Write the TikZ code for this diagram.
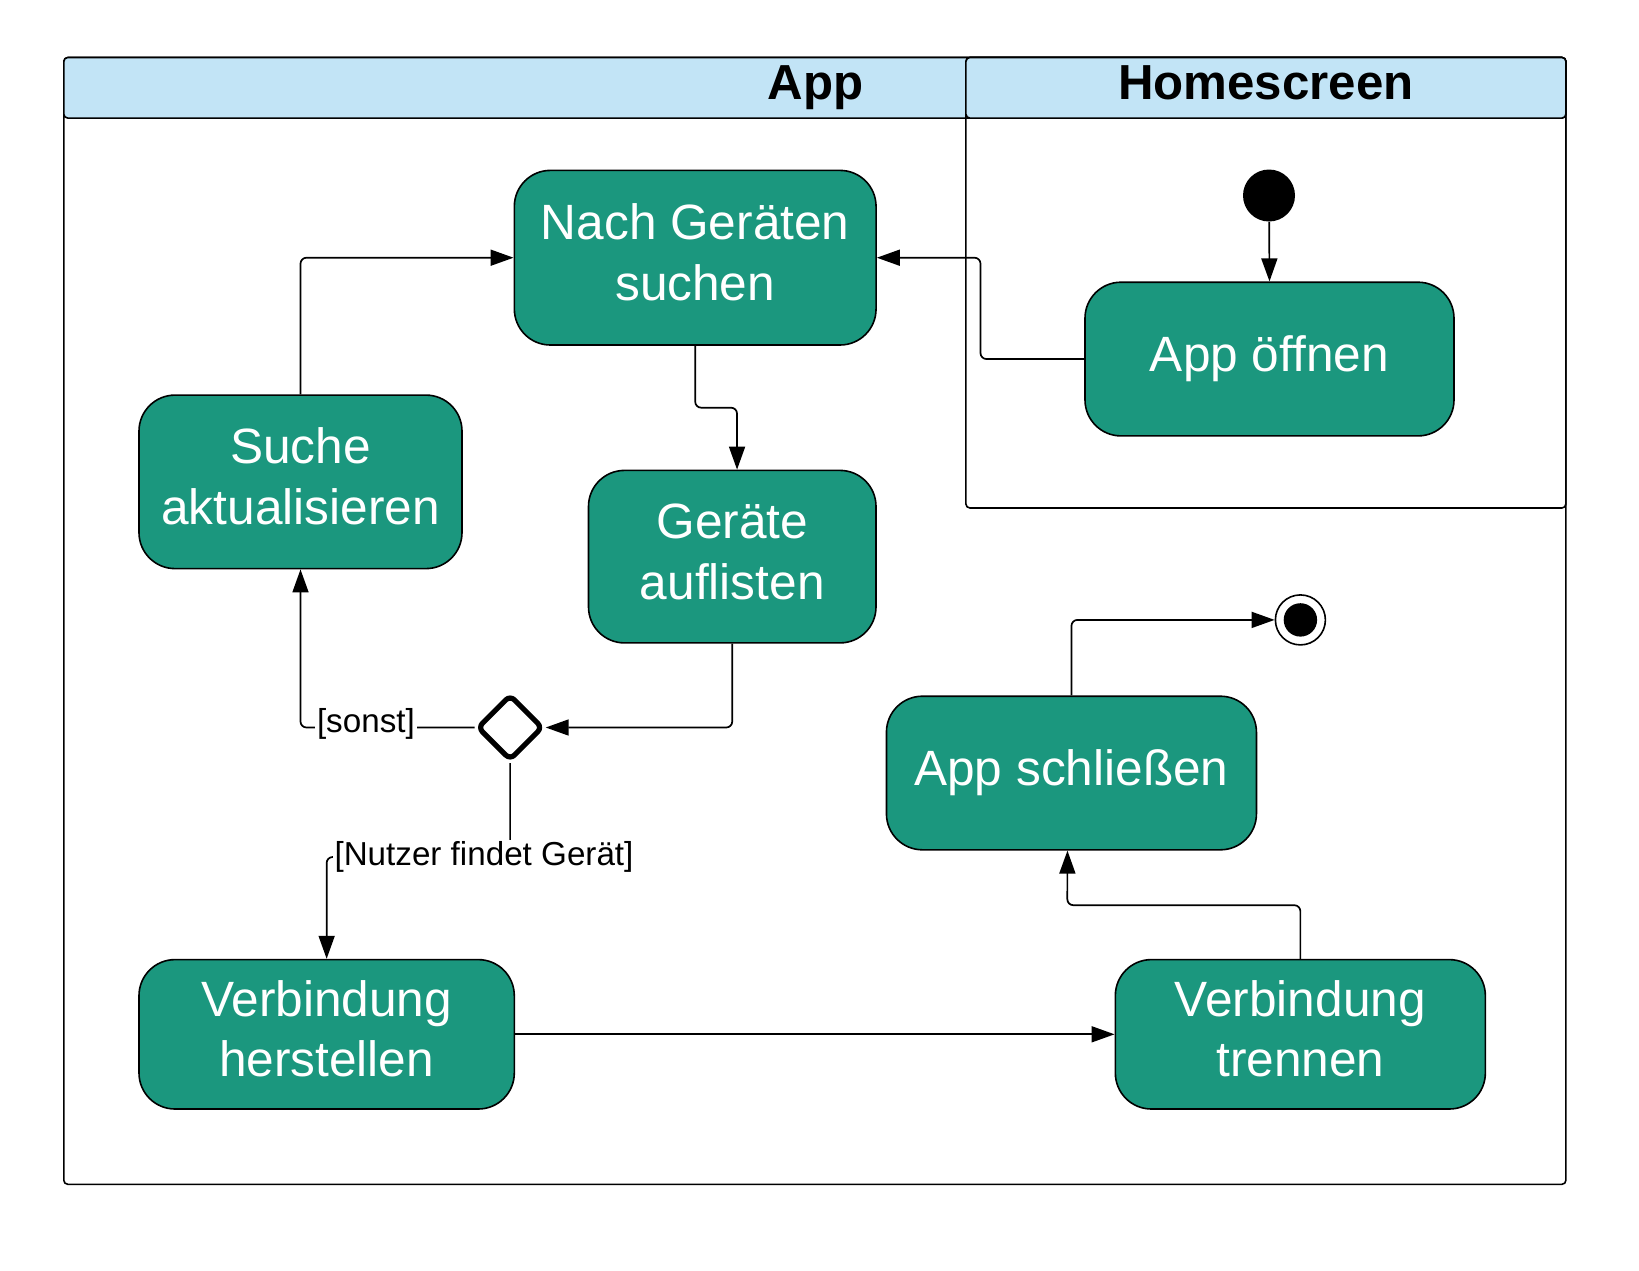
\documentclass[tikz,border=0pt]{standalone}
\usepackage{fontspec}
\setmainfont{Liberation Sans}
\usetikzlibrary{shapes.geometric,arrows.meta}
\definecolor{actfill}{HTML}{1B977E}
\definecolor{hdrfill}{HTML}{C2E4F6}
\newcommand{\twolines}[2]{\raisebox{3.1pt}{\begin{tabular}{@{}c@{}}#1\\#2\end{tabular}}}
\begin{document}
\begin{tikzpicture}[x=0.5pt,y=-0.5pt,
  act/.style={draw=black, line width=0.8pt, fill=actfill, rounded corners=18pt,
    text=white, font=\fontsize{24.8}{30.3}\selectfont, inner sep=0pt},
  conn/.style={line width=0.85pt, rounded corners=3pt, -{Triangle[length=11.5pt,width=8pt]}},
  lbl/.style={fill=white, inner sep=1pt, font=\fontsize{16.6}{20}\selectfont},
  hdr/.style={font=\bfseries\fontsize{24.6}{30}\selectfont, anchor=base, inner sep=0pt},
  pool/.style={draw=black, line width=0.8pt, rounded corners=2pt}
]
\useasboundingbox (0,0) rectangle (1639,1270);

% App pool
\draw[pool] (63.8,57.5) rectangle (1565.9,1184.3);
\filldraw[pool, fill=hdrfill] (63.8,57.5) rectangle (1565.9,118.1);
\node[hdr] (happ) at (815.3,99.5) {App};

% Homescreen pool
\draw[pool] (965.9,57.5) rectangle (1565.9,508);
\filldraw[pool, fill=hdrfill] (965.9,57.5) rectangle (1565.9,118.1);
\node[hdr] (hhome) at (1265.9,99.5) {Homescreen};

% Activities
\node[act, minimum width=180.85pt, minimum height=87.3pt] (nach) at (695.2,257.7) {\twolines{Nach Geräten}{suchen}};
\node[act, minimum width=184.5pt, minimum height=76.85pt] (oeff) at (1269.5,359.05) {App öffnen};
\node[act, minimum width=161.5pt, minimum height=86.75pt] (suche) at (300.5,481.85) {\twolines{Suche}{aktualisieren}};
\node[act, minimum width=143.75pt, minimum height=86.25pt] (ger) at (732.25,556.65) {\twolines{Geräte}{auflisten}};
\node[act, minimum width=185pt, minimum height=76.8pt] (schl) at (1071.45,773) {App schließen};
\node[act, minimum width=187.65pt, minimum height=74.7pt] (vh) at (326.65,1034.3) {\twolines{Verbindung}{herstellen}};
\node[act, minimum width=185pt, minimum height=74.7pt] (vt) at (1300.35,1034.3) {\twolines{Verbindung}{trennen}};

% Decision
\node[diamond, draw=black, line width=2.6pt, rounded corners=3pt, fill=white, shape aspect=1,
  minimum width=33pt, minimum height=33pt, inner sep=0pt] (dec) at (510.1,727.5) {};

% Start / end
\node[circle, fill=black, minimum size=26pt, inner sep=0pt] (start) at (1269,195.5) {};
\node[circle, draw=black, line width=0.8pt, fill=white, minimum size=25pt, inner sep=0pt] (fin) at (1300.4,619.9) {};
\node[circle, fill=black, minimum size=16.7pt, inner sep=0pt] (finin) at (fin.center) {};

% Connectors
\draw[conn] (start) -- (oeff.north);
\draw[conn] (oeff.west) -| (980.5,257.7) -- (nach.east);
\draw[conn] (nach.south) -- (695.2,407.7) -| ([xshift=2.4pt]ger.north);
\draw[conn] (ger.south) |- (dec.east);
\draw[conn] (dec.west) -| (suche.south);
\draw[conn] (suche.north) |- (nach.west);
\draw[conn] (dec.south) -- (510.1,857) -| (vh.north);
\draw[conn] (vh.east) -- (vt.west);
\draw[conn] (vt.north) |- (1067.3,905.2) -- ([xshift=-2pt]schl.south);
\draw[conn] (schl.north) |- (fin.west);

% Guard labels
\node[lbl] (lsonst) at (365.9,724) {[sonst]};
\node[lbl] (lfind) at (484,857) {[Nutzer findet Gerät]};
\end{tikzpicture}
\end{document}
